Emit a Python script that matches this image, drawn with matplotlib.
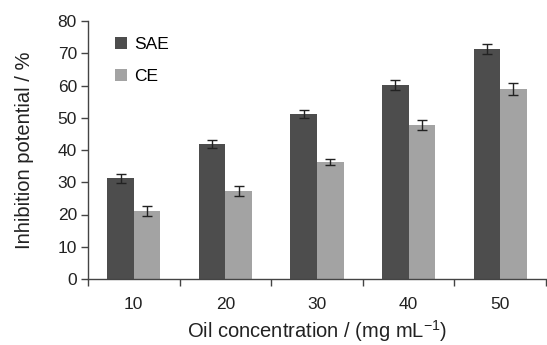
import matplotlib
matplotlib.use("Agg")
import matplotlib.pyplot as plt
import numpy as np

plt.rcParams['font.family'] = ['Liberation Sans', 'DejaVu Sans']

categories = ["10", "20", "30", "40", "50"]
sae = [31.2, 41.9, 51.2, 60.2, 71.3]
sae_err = [1.5, 1.3, 1.3, 1.5, 1.6]
ce = [21.1, 27.3, 36.3, 47.8, 58.9]
ce_err = [1.6, 1.5, 1.0, 1.5, 1.9]
yticks = [0, 10, 20, 30, 40, 50, 60, 70, 80]

fig = plt.figure(figsize=(5.47, 3.45), dpi=100)
ax = fig.add_axes([88/547, 1-279/345, (546-88)/547, (279-21)/345])

x = np.arange(len(categories))
w = 0.29
dark = "#4d4d4d"
light = "#a3a3a3"
ax.bar(x - w/2, sae, w, color=dark, label="SAE", zorder=2)
ax.bar(x + w/2, ce, w, color=light, label="CE", zorder=2)
ax.errorbar(x - w/2, sae, yerr=sae_err, fmt='none', ecolor='#222222', elinewidth=1, capsize=3.5, capthick=1, zorder=3)
ax.errorbar(x + w/2, ce, yerr=ce_err, fmt='none', ecolor='#222222', elinewidth=1, capsize=3.5, capthick=1, zorder=3)

ax.set_xlim(-0.5, len(categories) - 0.5)
ax.set_ylim(0, 80)
ax.set_yticks(yticks)
ax.set_yticklabels([str(t) for t in yticks], fontsize=12.5, color="#222222")
ax.set_xticks(x)
ax.set_xticklabels(categories, fontsize=12.5, color="#222222")
ax.set_xticks(np.arange(len(categories) + 1) - 0.5, minor=True)
ax.tick_params(axis='x', which='major', length=0, pad=13)
ax.tick_params(axis='x', which='minor', length=5, direction='out', width=1, color="#444444")
ax.tick_params(axis='y', length=5, direction='out', width=1, color="#444444", pad=3)

for s in ['top', 'right']:
    ax.spines[s].set_visible(False)
for s in ['left', 'bottom']:
    ax.spines[s].set_color("#444444")
    ax.spines[s].set_linewidth(1)

ax.set_ylabel("Inhibition potential / %", fontsize=14.5, color="#222222", labelpad=17)
fig.text(317/547, 1-331/345, "Oil concentration / (mg mL$^{\\mathregular{-1}}$)", fontsize=14.5,
         color="#222222", ha='center', va='center')

leg = ax.legend(loc='upper left', bbox_to_anchor=(0.025, 1.0), frameon=False, fontsize=12.5,
                handlelength=0.7, handleheight=0.7, labelspacing=1.0, handletextpad=0.4)

fig.savefig("out.png", dpi=100)
